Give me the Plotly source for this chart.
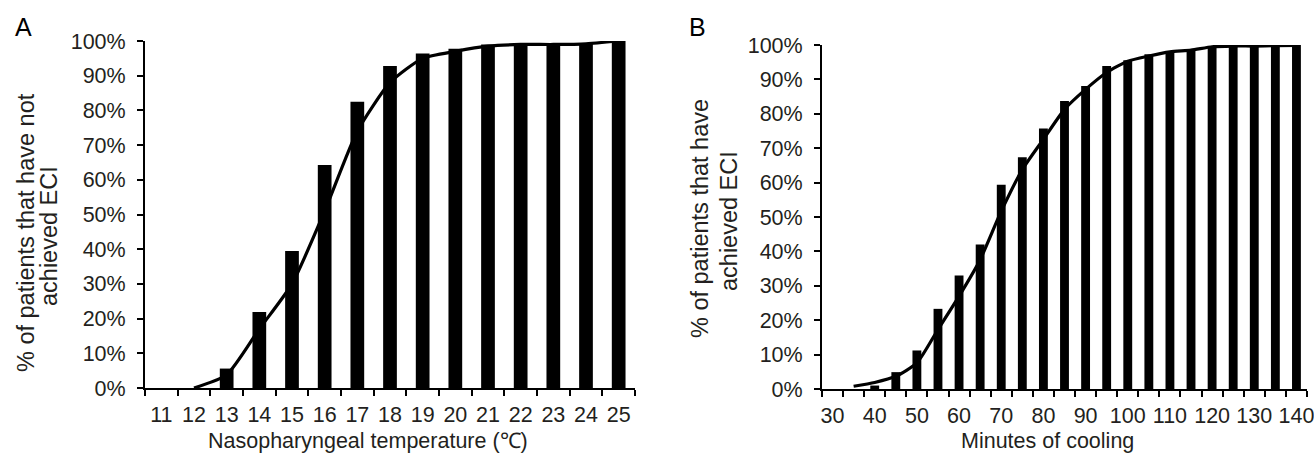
import plotly.graph_objects as go

# ---- Panel A data ----
temp_c = [11, 12, 13, 14, 15, 16, 17, 18, 19, 20, 21, 22, 23, 24, 25]
a_bars = [0, 0, 5.6, 21.9, 39.5, 64.3, 82.5, 92.8, 96.4, 97.8, 99.0, 99.2, 99.2, 99.4, 100]
a_line = [None, 0, 3.8, 17, 30, 51, 74, 88, 95, 97, 98.5, 99, 99, 99.2, 100]

# ---- Panel B data ----
minutes = [30, 35, 40, 45, 50, 55, 60, 65, 70, 75, 80, 85, 90, 95, 100, 105, 110, 115, 120, 125, 130, 135, 140]
b_bars = [0, 0, 1.0, 4.9, 11.2, 23.3, 33.0, 42.0, 59.4, 67.4, 75.7, 83.7, 88.1, 93.9, 95.6, 97.3, 98.0, 98.3, 99.5, 99.7, 99.9, 99.9, 100]
b_line = [None, 0.8, 1.9, 3.7, 7.6, 17.3, 27, 37.6, 51.7, 63.8, 72.6, 81.3, 87.1, 92, 95.3, 96.8, 98, 98.5, 99.5, 99.7, 99.7, 99.8, 99.9]

# ---- Tick labels ----
y_ticks = [0, 10, 20, 30, 40, 50, 60, 70, 80, 90, 100]
y_tick_labels = ["0%", "10%", "20%", "30%", "40%", "50%", "60%", "70%", "80%", "90%", "100%"]
b_tick_vals = [30, 40, 50, 60, 70, 80, 90, 100, 110, 120, 130, 140]

TXT = "#231f20"
FONT = "Liberation Sans, Arial, Helvetica, sans-serif"
W, H = 1314, 461

fig = go.Figure()
fig.add_trace(go.Bar(x=temp_c, y=a_bars, marker=dict(color="black", line=dict(width=0)),
                     xaxis="x", yaxis="y", showlegend=False))
fig.add_trace(go.Scatter(x=temp_c, y=a_line, mode="lines",
                         line=dict(color="black", width=3.2, shape="spline", smoothing=0.6),
                         xaxis="x", yaxis="y", showlegend=False, cliponaxis=False, connectgaps=False))
fig.add_trace(go.Bar(x=minutes, y=b_bars, marker=dict(color="black", line=dict(width=0)),
                     xaxis="x2", yaxis="y2", showlegend=False))
fig.add_trace(go.Scatter(x=minutes, y=b_line, mode="lines",
                         line=dict(color="black", width=3.2, shape="spline", smoothing=0.6),
                         xaxis="x2", yaxis="y2", showlegend=False, cliponaxis=False, connectgaps=False))


def px_x(p):
    return p / W


def px_y(p):
    return 1 - p / H


FS = 21.5
tickfont = dict(family=FONT, size=FS, color=TXT)

common_x = dict(showgrid=False, zeroline=False, showline=True, linecolor="black", linewidth=2,
                ticks="", tickfont=tickfont, ticklabelstandoff=6, fixedrange=True,
                automargin=False, ticklabeloverflow="allow")
common_y = dict(showgrid=False, zeroline=False, showline=True, linecolor="black", linewidth=2,
                ticks="outside", ticklen=6, tickwidth=2, tickcolor="black",
                tickfont=tickfont, tickmode="array", tickvals=y_ticks, ticktext=y_tick_labels,
                range=[0, 100], ticklabelstandoff=7, fixedrange=True,
                automargin=False, ticklabeloverflow="allow")

fig.update_layout(
    width=W, height=H, autosize=False,
    margin=dict(l=0, r=0, t=0, b=0, pad=0, autoexpand=False),
    paper_bgcolor="white", plot_bgcolor="white",
    bargap=0.58,
    xaxis=dict(**common_x, domain=[px_x(145), px_x(635)], range=[10.5, 25.5],
               tickmode="array", tickvals=temp_c, anchor="y",
               minor=dict(tick0=10.5, dtick=1, ticks="outside", ticklen=6, tickwidth=2,
                          tickcolor="black", showgrid=False)),
    yaxis=dict(**common_y, domain=[px_y(388), px_y(41)], anchor="x"),
    xaxis2=dict(**common_x, domain=[px_x(822), px_x(1307)], range=[27.5, 142.5],
                tickmode="array", tickvals=b_tick_vals, anchor="y2",
                minor=dict(tick0=27.5, dtick=5, ticks="outside", ticklen=6, tickwidth=2,
                           tickcolor="black", showgrid=False)),
    yaxis2=dict(**common_y, domain=[px_y(389), px_y(45)], anchor="x2"),
)

ann_font = dict(family=FONT, size=FS, color=TXT)
yt_font = dict(family=FONT, size=23.5, color=TXT)
annotations = [
    dict(text="A", x=px_x(23), y=px_y(27), font=dict(family=FONT, size=25, color="black")),
    dict(text="B", x=px_x(697), y=px_y(27), font=dict(family=FONT, size=25, color="black")),
    dict(text="% of patients that have not", x=px_x(26), y=px_y(233), textangle=-90, font=yt_font),
    dict(text="achieved ECI", x=px_x(49), y=px_y(236), textangle=-90, font=yt_font),
    dict(text="% of patients that have", x=px_x(700), y=px_y(219), textangle=-90, font=yt_font),
    dict(text="achieved ECI", x=px_x(729), y=px_y(221), textangle=-90, font=yt_font),
    dict(text="Nasopharyngeal temperature (\u2103)", x=px_x(368), y=px_y(441), font=ann_font),
    dict(text="Minutes of cooling", x=px_x(1047), y=px_y(441), font=ann_font),
]
for a in annotations:
    a.update(xref="paper", yref="paper", xanchor="center", yanchor="middle", showarrow=False)
fig.update_layout(annotations=annotations)

fig.write_html(
    "out.html",
    config={"displayModeBar": False, "responsive": False},
    post_script="document.body.style.margin='0px';document.documentElement.style.overflow='hidden';",
)
